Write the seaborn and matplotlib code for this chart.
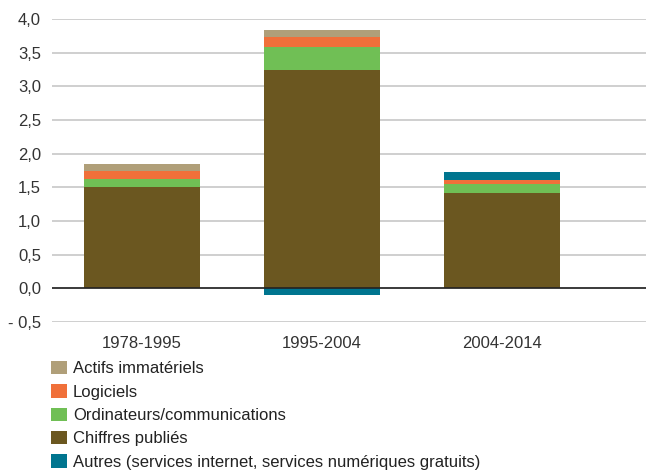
import numpy as np
import pandas as pd
import matplotlib
matplotlib.use("Agg")
import matplotlib.pyplot as plt
import seaborn as sns

# données
periodes = ['1978-1995', '1995-2004', '2004-2014']
chiffres_publies = [1.50, 3.25, 1.42]
ordinateurs = [0.13, 0.34, 0.13]
logiciels = [0.12, 0.15, 0.06]
actifs_immateriels = [0.09, 0.10, 0.00]
autres = [0.00, -0.10, 0.12]

y_ticks = [-0.5, 0.0, 0.5, 1.0, 1.5, 2.0, 2.5, 3.0, 3.5, 4.0]
y_labels = ['- 0,5', '0,0', '0,5', '1,0', '1,5', '2,0', '2,5', '3,0', '3,5', '4,0']

couleurs = {
    'Chiffres publiés': '#6B5720',
    'Ordinateurs/communications': '#70BF55',
    'Logiciels': '#F0703A',
    'Actifs immatériels': '#B09F79',
    'Autres (services internet, services numériques gratuits)': '#00758F',
}

sns.set_style("white")
plt.rcParams['font.family'] = ['Liberation Sans Narrow', 'Liberation Sans', 'DejaVu Sans']
taille = 12

fig = plt.figure(figsize=(6.46, 4.72), dpi=100)
ax = fig.add_axes([52 / 646, 1 - 322 / 472, 1 - 52 / 646, (322 - 19) / 472])

series = [
    ('Chiffres publiés', chiffres_publies),
    ('Ordinateurs/communications', ordinateurs),
    ('Logiciels', logiciels),
    ('Actifs immatériels', actifs_immateriels),
    ('Autres (services internet, services numériques gratuits)', autres),
]

pos = np.zeros(len(periodes))
for nom, vals in series:
    vals = np.array(vals)
    bas = np.where(vals >= 0, pos, 0.0)
    sns.barplot(x=periodes, y=vals, bottom=bas, color=couleurs[nom],
                width=0.645, ax=ax, label=nom, saturation=1, zorder=3,
                linewidth=0, edgecolor='none')
    pos = pos + np.where(vals > 0, vals, 0.0)

ax.set_ylim(-0.5, 4.0)
ax.set_xlim(-0.5, 2.8)
ax.set_yticks(y_ticks)
ax.set_yticklabels(y_labels)
ax.yaxis.grid(True, color='#cccccc', linewidth=1.3, zorder=0)
ax.axhline(0, color='#222222', linewidth=1.2, zorder=4)
for s in ax.spines.values():
    s.set_visible(False)
ax.tick_params(axis='both', length=0, labelsize=taille, colors='#333333')
ax.tick_params(axis='y', pad=8)
ax.tick_params(axis='x', pad=10)

handles, labels = ax.get_legend_handles_labels()
ordre = [3, 2, 1, 0, 4]
ax.legend([handles[i] for i in ordre], [labels[i] for i in ordre],
          loc='upper left', bbox_to_anchor=(51 / 646, 1 - 361 / 472),
          bbox_transform=fig.transFigure, frameon=False, fontsize=taille,
          handlelength=0.96, handleheight=0.84, handletextpad=0.35,
          labelspacing=0.48, borderpad=0, borderaxespad=0,
          labelcolor='#222222')

fig.savefig('out.png', dpi=100)
